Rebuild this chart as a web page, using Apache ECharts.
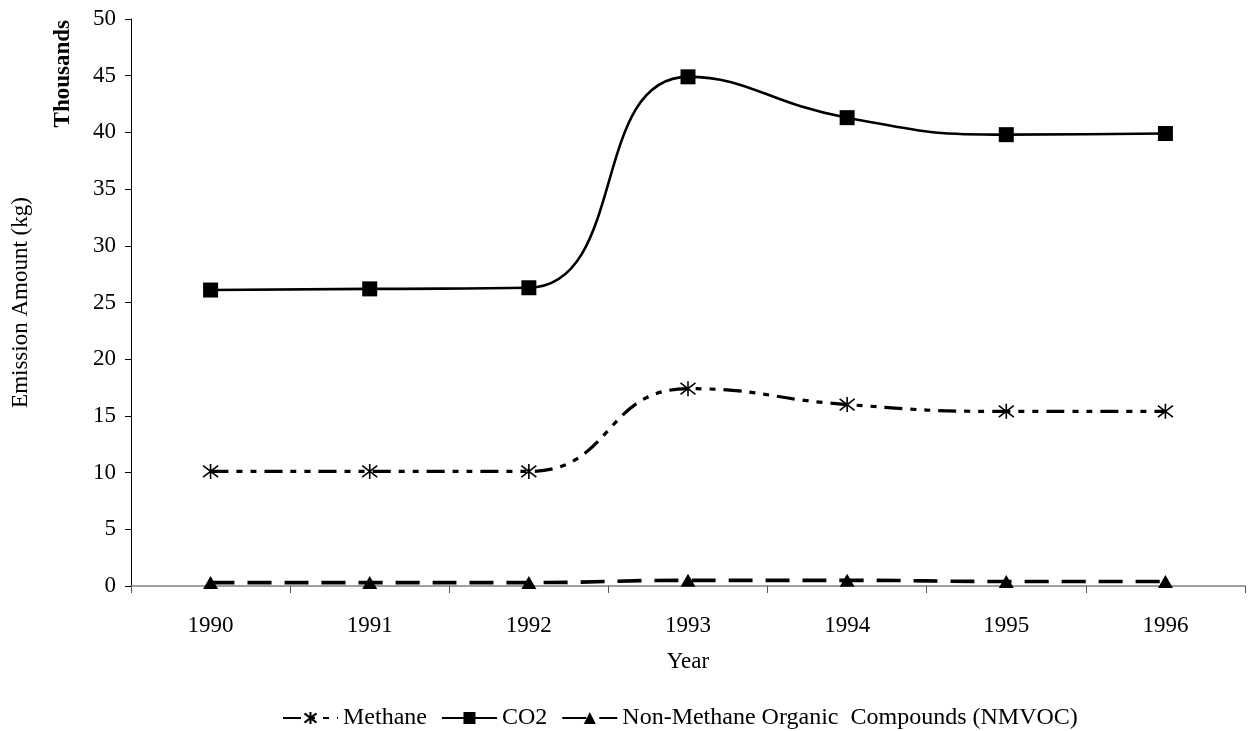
<!DOCTYPE html>
<html><head><meta charset="utf-8">
<script src="https://cdn.jsdelivr.net/npm/echarts@6/dist/echarts.min.js"></script>
<style>html,body{margin:0;padding:0;background:#fff}#c{width:1249px;height:731px}</style>
</head><body><div id="c"></div>
<script>
const years = ['1990','1991','1992','1993','1994','1995','1996'];
const methane = [10.1, 10.1, 10.1, 17.4, 16.0, 15.4, 15.4];
const co2 = [26.1, 26.2, 26.3, 44.9, 41.3, 39.8, 39.9];
const nmvoc = [0.3, 0.3, 0.3, 0.5, 0.5, 0.4, 0.4];
const yTicks = [0, 5, 10, 15, 20, 25, 30, 35, 40, 45, 50];

const FONT = 'Liberation Serif';
const FS = 23;
const chart = echarts.init(document.getElementById('c'));
const asterisk = 'path://M0,0L10,10M10,0L0,10M5,-1.5L5,11.5';
chart.setOption({
  backgroundColor: '#fff',
  animation: false,
  textStyle: {fontFamily: FONT, color: '#000'},
  grid: {left: 131, right: 4, top: 19, bottom: 145, containLabel: false},
  xAxis: {
    type: 'category', data: years, boundaryGap: true,
    name: 'Year', nameLocation: 'middle', nameGap: 64,
    nameTextStyle: {fontFamily: FONT, fontSize: FS, color: '#000'},
    axisLine: {lineStyle: {color: '#808080', width: 1.5}},
    axisTick: {show: true, length: 7, lineStyle: {color: '#555'}},
    axisLabel: {fontFamily: FONT, fontSize: FS, color: '#000', margin: 28},
    splitLine: {show: false}
  },
  yAxis: {
    type: 'value', min: yTicks[0], max: yTicks[yTicks.length-1], interval: 5,
    name: 'Emission Amount (kg)', nameLocation: 'middle', nameGap: 99,
    nameTextStyle: {fontFamily: FONT, fontSize: FS, color: '#000'},
    axisLine: {show: true, lineStyle: {color: '#000', width: 1}},
    axisTick: {show: true, length: 6, lineStyle: {color: '#000'}},
    axisLabel: {fontFamily: FONT, fontSize: FS, color: '#000', margin: 15},
    splitLine: {show: false}
  },
  legend: {
    top: 701, left: 277, itemGap: 14, itemWidth: 55, itemHeight: 15,
    textStyle: {fontFamily: FONT, fontSize: 24, color: '#000'},
    data: ['Methane', 'CO2', 'Non-Methane Organic  Compounds (NMVOC)']
  },
  graphic: [{
    type: 'text', x: 63, y: 20, rotation: Math.PI/2,
    style: {text: 'Thousands', fontFamily: FONT, fontSize: FS, fontWeight: 'bold', fill: '#000',
            align: 'right', verticalAlign: 'middle'}
  }],
  series: [
    {name: 'Methane', type: 'line', data: methane, smooth: 0.5,
     symbol: asterisk, symbolSize: 15,
     itemStyle: {color: '#000', borderColor: '#000', borderWidth: 1.6},
     lineStyle: {color: '#000', width: 3.2, type: [18, 8, 6, 8, 6, 8]}},
    {name: 'CO2', type: 'line', data: co2, smooth: 0.5,
     symbol: 'rect', symbolSize: 15,
     itemStyle: {color: '#000'},
     lineStyle: {color: '#000', width: 2.6, type: 'solid'}},
    {name: 'Non-Methane Organic  Compounds (NMVOC)', type: 'line', data: nmvoc, smooth: 0.5,
     symbol: 'triangle', symbolSize: [15, 13],
     itemStyle: {color: '#000'},
     lineStyle: {color: '#000', width: 3.6, type: [24, 13]}}
  ]
});
</script></body></html>
